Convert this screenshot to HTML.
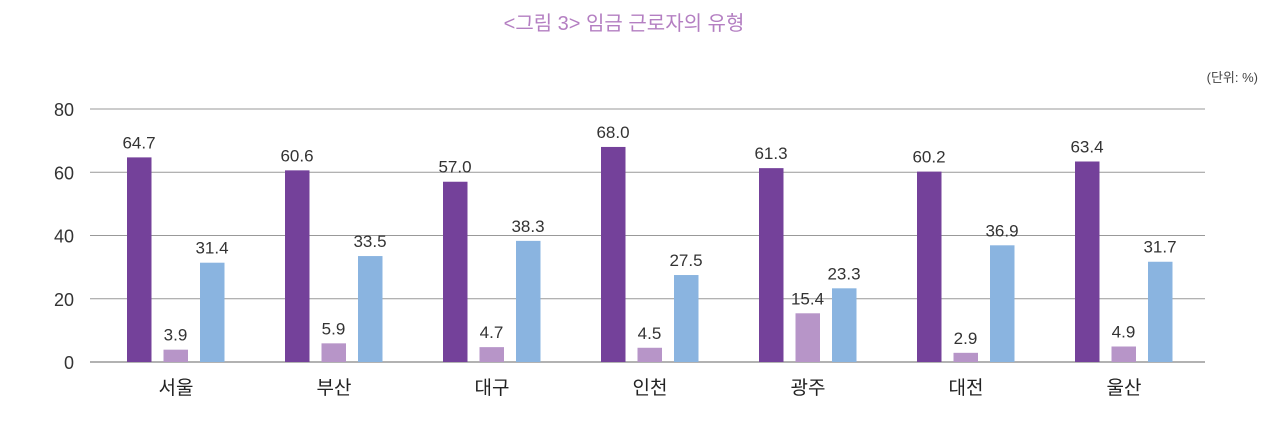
<!DOCTYPE html>
<html><head><meta charset="utf-8"><style>
body{margin:0;background:#fff;width:1280px;height:418px;overflow:hidden;font-family:"Liberation Sans","Noto Sans CJK KR",sans-serif;}
svg text{font-family:"Liberation Sans","Noto Sans CJK KR",sans-serif;}
</style></head><body>
<svg id="chart" width="1280" height="418">
<text x="624" y="30" text-anchor="middle" font-size="20" fill="#b47fc2">&lt;그림 3&gt; 임금 근로자의 유형</text>
<text x="1258" y="82" text-anchor="end" font-size="13" fill="#444">(단위: %)</text>
<g id="grid"></g><g id="bars"></g>
</svg>
<script>
const categories=["서울","부산","대구","인천","광주","대전","울산"];
const series1=[64.7,60.6,57.0,68.0,61.3,60.2,63.4];
const series2=[3.9,5.9,4.7,4.5,15.4,2.9,4.9];
const series3=[31.4,33.5,38.3,27.5,23.3,36.9,31.7];
const yTicks=[0,20,40,60,80];
const colors=["#74419a","#b795c8","#8ab4e0"];
const NS="http://www.w3.org/2000/svg";
const svg=document.getElementById("chart");
const grid=document.getElementById("grid"),bars=document.getElementById("bars");
const y0=362,y80=109;
const y=v=>y0-(v/80)*(y0-y80);
const xc=i=>176+i*158;
function mk(tag,attrs,parent){const e=document.createElementNS(NS,tag);for(const k in attrs)e.setAttribute(k,attrs[k]);parent.appendChild(e);return e;}
yTicks.forEach(t=>{
  const l=mk("line",{x1:90,x2:1205,y1:y(t),y2:y(t),stroke:t===0?"#666":"#999","stroke-width":1},grid);
  
  
  const tx=mk("text",{x:74,y:y(t)+7,"text-anchor":"end","font-size":18,fill:"#333"},grid);
  tx.textContent=t;
  
  
});
const all=[series1,series2,series3];
categories.forEach((c,i)=>{
  all.forEach((s,j)=>{
    const bx=xc(i)-49+j*36.5;
    const r=mk("rect",{x:bx,y:y(s[i]),width:24.5,height:y0-y(s[i]),fill:colors[j]},bars);
    
    
    const t=mk("text",{x:bx+12,y:y(s[i])-9,"text-anchor":"middle","font-size":17,fill:"#333"},bars);
    t.textContent=s[i].toFixed(1);
    
    
  });
  const ct=mk("text",{x:xc(i),y:394,"text-anchor":"middle","font-size":19,fill:"#222"},bars);
  ct.textContent=c;
  
  
});
</script>
</body></html>
